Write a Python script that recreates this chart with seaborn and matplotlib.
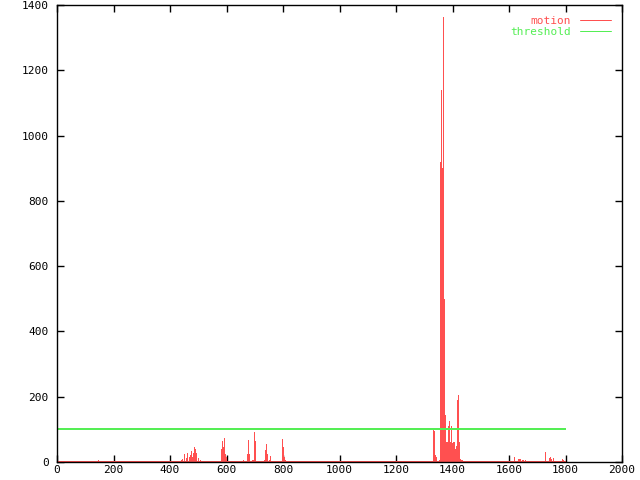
import numpy as np
import pandas as pd
import matplotlib
matplotlib.use('Agg')
import matplotlib.pyplot as plt
import seaborn as sns
from matplotlib.lines import Line2D

# frame range of the recording and the alarm threshold
first_frame = 0
last_frame = 1800
threshold = 100

# frames with non-zero motion, everything else is 0
spike_frames = [146, 150,
                438, 442, 451, 455, 459, 466, 470, 474, 479, 483, 486, 490, 493, 498, 505, 509,
                578, 582, 585, 589, 592, 596, 599, 608, 624,
                656, 660, 664, 674, 677, 681, 691, 695, 698, 702,
                734, 737, 741, 744, 752, 755, 758, 797, 800, 804, 807,
                1330, 1333, 1336, 1338, 1341, 1348, 1353,
                1357, 1359, 1361, 1363, 1365, 1367, 1369, 1371, 1373, 1375, 1377, 1379,
                1381, 1383, 1385, 1387, 1389, 1391, 1393, 1395, 1397, 1399, 1401, 1403,
                1405, 1407, 1409, 1411, 1413, 1416, 1418, 1420, 1422, 1424, 1426, 1430, 1434, 1438,
                1466, 1494, 1547, 1560, 1564, 1618, 1632, 1636, 1640, 1645, 1650, 1656, 1672,
                1728, 1742, 1746, 1750, 1755, 1786, 1790]
spike_values = [6, 3,
                6, 9, 23, 11, 27, 14, 21, 35, 14, 29, 46, 39, 27, 11, 6, 4,
                2, 39, 63, 47, 72, 24, 16, 4, 4,
                3, 6, 3, 24, 67, 24, 6, 6, 92, 64,
                6, 37, 56, 24, 6, 18, 4, 70, 47, 14, 6,
                98, 95, 60, 21, 14, 3, 6,
                920, 1140, 920, 900, 1362, 920, 500, 500, 145, 120, 60, 30,
                60, 110, 40, 115, 125, 60, 110, 40, 58, 20, 60, 55,
                30, 60, 40, 50, 20, 190, 205, 190, 60, 40, 10, 6, 6, 4,
                3, 3, 3, 3, 3, 16, 8, 10, 8, 5, 5, 5, 3,
                32, 12, 15, 10, 12, 8, 6]

frames = np.arange(first_frame, last_frame + 1)
motion = np.zeros(len(frames))
motion[np.array(spike_frames) - first_frame] = spike_values
df = pd.DataFrame({'frame': frames, 'motion': motion,
                   'threshold': np.full(len(frames), threshold)})

red = '#ff5050'
green = '#55ee55'
px = 0.72  # one pixel in points at 100 dpi

sns.set_style('white')
plt.rcParams['font.family'] = ['DejaVu Sans Mono']
plt.rcParams['font.size'] = 8

fig = plt.figure(figsize=(6.4, 4.8), dpi=100)
ax = fig.add_axes([57 / 640, 18 / 480, 565 / 640, 457 / 480])

# impulses for the motion, flat line for the threshold
ax.vlines(df['frame'], 0, df['motion'], color=red, lw=px, antialiased=False)
ax.hlines(0, df['frame'].iloc[0], df['frame'].iloc[-1], color=red, lw=2 * px, antialiased=False)
sns.lineplot(data=df, x='frame', y='threshold', color=green, lw=px, ax=ax, antialiased=False)

ax.set_xlim(0, 2000)
ax.set_ylim(0, 1400)
ax.set_xticks(range(0, 2001, 200))
ax.set_yticks(range(0, 1401, 200))
ax.set_xlabel('')
ax.set_ylabel('')
ax.tick_params(direction='in', length=5, width=1, top=True, right=True,
               bottom=True, left=True, labelsize=8, colors='black')
ax.tick_params(axis='x', pad=2)
ax.tick_params(axis='y', pad=6)
for s in ax.spines.values():
    s.set_color('black')
    s.set_linewidth(1)

handles = [Line2D([], [], color=red, lw=px), Line2D([], [], color=green, lw=px)]
leg = ax.legend(handles, ['motion', 'threshold'], loc='upper right', frameon=False,
                markerfirst=False, handlelength=2.8, labelspacing=0.05,
                borderaxespad=0.6, fontsize=8, labelcolor='linecolor')
for t in leg.get_texts():
    t.set_ha('right')

fig.savefig('out.png', dpi=100)
